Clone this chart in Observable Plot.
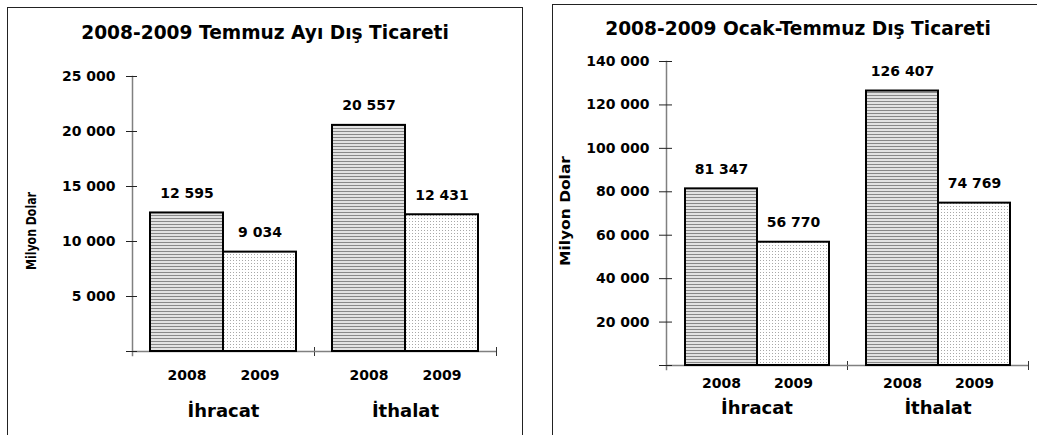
<!DOCTYPE html>
<html><head><meta charset="utf-8">
<script src="https://cdn.jsdelivr.net/npm/d3@7"></script>
<script src="https://cdn.jsdelivr.net/npm/@observablehq/plot@0.6"></script>
<style>
body{margin:0;background:#fff;width:1037px;height:435px;overflow:hidden;position:relative;font-family:"DejaVu Sans",sans-serif;}
.panel{position:absolute;border:1px solid #222;box-sizing:border-box;}
.title{position:absolute;font-family:"DejaVu Sans";font-weight:bold;font-size:18.6px;line-height:18px;white-space:nowrap;transform:translateX(-50%);color:#000}
.chart{position:absolute}
</style></head><body>
<svg width="0" height="0" style="position:absolute;left:0;top:0"><defs>
<pattern id="hatch" patternUnits="userSpaceOnUse" width="4" height="3"><rect width="4" height="3" fill="#e2e2e2"/><rect width="4" height="1" fill="#888"/></pattern>
<pattern id="dots" patternUnits="userSpaceOnUse" width="3" height="3"><rect width="3" height="3" fill="#fff"/><rect width="1" height="1" fill="#a8a8a8"/></pattern>
</defs></svg>
<div class="panel" style="left:7px;top:7px;width:516px;height:440px"></div>
<div class="panel" style="left:552px;top:4px;width:500px;height:440px"></div>
<div class="title" style="left:265px;top:24px">2008-2009 Temmuz Ayı Dış Ticareti</div>
<div class="title" style="left:798px;top:20px">2008-2009 Ocak-Temmuz Dış Ticareti</div>
<svg width="1037" height="435" style="position:absolute;left:0;top:0;pointer-events:none" font-family="DejaVu Sans" font-weight="bold" font-size="14" fill="#000">
  <text transform="translate(35.5,231) rotate(-90)" text-anchor="middle" textLength="78" lengthAdjust="spacingAndGlyphs">Milyon Dolar</text>
  <text transform="translate(570,211) rotate(-90)" text-anchor="middle" textLength="110" lengthAdjust="spacingAndGlyphs">Milyon Dolar</text>
</svg>
<div id="c1" class="chart" style="left:8px;top:8px"></div>
<div id="c2" class="chart" style="left:553px;top:5px"></div>
<script>
const categories = ["İhracat", "İthalat"];
const years = ["2008", "2009"];
// Temmuz (July)
const julyExports = [12595, 9034];
const julyImports = [20557, 12431];
const julyTicks = [0, 5000, 10000, 15000, 20000, 25000];
// Ocak-Temmuz (January-July)
const janJulExports = [81347, 56770];
const janJulImports = [126407, 74769];
const janJulTicks = [0, 20000, 40000, 60000, 80000, 100000, 120000, 140000];

const fmt = d3.formatLocale({decimal: ",", thousands: " ", grouping: [3], currency: ["", ""]}).format(",d");

function rowsOf(exp, imp) {
  const vals = [exp, imp];
  return categories.flatMap((c, i) => years.map((yr, j) => ({category: c, year: yr, value: vals[i][j]})));
}

function chart(o) {
  const rows = rowsOf(o.exp, o.imp);
  const plotH = o.h - o.mt - o.mb;
  return Plot.plot({
    width: o.w, height: o.h, marginTop: o.mt, marginRight: o.mr, marginBottom: o.mb, marginLeft: o.ml,
    style: {fontFamily: "DejaVu Sans", fontWeight: "bold", fontSize: "14px", color: "#000", background: "none", overflow: "visible"},
    fx: {domain: categories, padding: 0, label: null},
    x: {domain: years, paddingInner: 0, paddingOuter: 0.24, label: null},
    y: {domain: [0, o.ticks[o.ticks.length - 1]], label: null},
    color: {domain: years, range: ["url(#hatch)", "url(#dots)"]},
    marks: [
      Plot.frame({anchor: "left", facetAnchor: "left", stroke: "#808080", strokeWidth: 1.5, insetBottom: -4}),
      Plot.frame({anchor: "right", stroke: "#333", insetTop: plotH - 4, insetBottom: -4}),
      Plot.ruleY([0], {stroke: "#808080", strokeWidth: 1.5}),
      Plot.barY(rows, {fx: "category", x: "year", y: "value", fill: "year", stroke: "#000", strokeWidth: 2}),
      Plot.axisY(o.ticks, {tickFormat: d => d === 0 ? "" : fmt(d), tickSize: o.tickSize, dx: o.tickDx, tickPadding: o.tickPad, stroke: "#222", label: null}),
      Plot.axisX({anchor: "bottom", tickSize: 0, tickPadding: o.yearPad, label: null}),
      Plot.axisFx({anchor: "bottom", tickSize: 0, tickPadding: o.catPad, fontSize: 18, label: null}),
      Plot.text(rows, {fx: "category", x: "year", y: "value", text: d => fmt(d.value), dy: -15, lineAnchor: "bottom", fontSize: 14})
    ]
  });
}

document.getElementById("c1").append(chart({
  exp: julyExports, imp: julyImports, ticks: julyTicks,
  w: 514, h: 427, mt: 68, mr: 26, mb: 84, ml: 124,
  tickSize: 11, tickDx: 5, tickPad: 11, yearPad: 19, catPad: 53
}));
document.getElementById("c2").append(chart({
  exp: janJulExports, imp: janJulImports, ticks: janJulTicks,
  w: 484, h: 430, mt: 56, mr: 9, mb: 70, ml: 113,
  tickSize: 13, tickDx: 6, tickPad: 10, yearPad: 13, catPad: 36
}));
</script>
</body></html>
